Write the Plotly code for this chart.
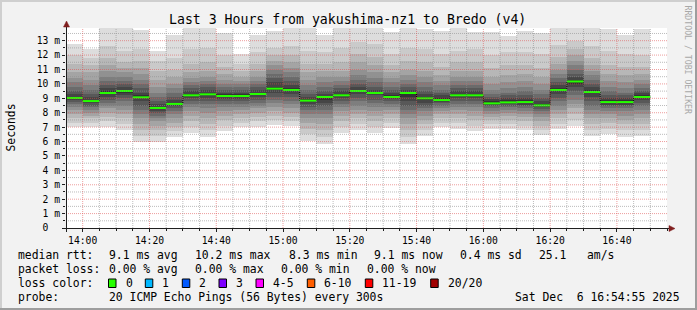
import plotly.graph_objects as go
from datetime import datetime, timedelta

# ---------------- data ----------------
column_start = ["13:55", "14:00", "14:05", "14:10", "14:15", "14:20", "14:25",
                "14:30", "14:35", "14:40", "14:45", "14:50", "14:55", "15:00",
                "15:05", "15:10", "15:15", "15:20", "15:25", "15:30", "15:35",
                "15:40", "15:45", "15:50", "15:55", "16:00", "16:05", "16:10",
                "16:15", "16:20", "16:25", "16:30", "16:35", "16:40", "16:45"]

median_rtt_ms = [9.02, 8.81, 9.37, 9.51, 9.07, 8.33, 8.61, 9.21, 9.28, 9.16,
                 9.16, 9.30, 9.67, 9.58, 8.84, 9.09, 9.21, 9.51, 9.37, 9.09,
                 9.37, 9.00, 8.88, 9.21, 9.21, 8.65, 8.72, 8.74, 8.51, 9.58,
                 10.17, 9.44, 8.74, 8.74, 9.09]

loss_count = [0, 0, 0, 0, 0, 0, 0, 0, 0, 0, 0, 0, 0, 0, 0, 0, 0, 0,
              0, 0, 0, 0, 0, 0, 0, 0, 0, 0, 0, 0, 0, 0, 0, 0, 0]

# legend statistics as printed on the chart
median_stats = [("9.1", "ms avg"), ("10.2", "ms max"), ("8.3", "ms min"),
                ("9.1", "ms now"), ("0.4", "ms sd"), ("25.1", "  am/s")]
loss_stats = [("0.00", "% avg"), ("0.00", "% max"), ("0.00", "% min"), ("0.00", "% now")]

# 20 sorted ping round-trip times (ms) per 5-minute step
ping_ms = [
    [7.0, 7.3, 7.6, 7.9, 8.2, 8.4, 8.6, 8.8, 8.9, 9.0, 9.1, 9.3, 9.5, 9.8, 10.1, 10.4, 10.8, 11.4, 12.0, 12.75],
    [7.0, 7.3, 7.6, 7.8, 8.0, 8.2, 8.4, 8.5, 8.7, 8.8, 8.9, 9.1, 9.3, 9.6, 9.9, 10.3, 10.8, 11.3, 11.8, 12.4],
    [7.0, 7.4, 7.7, 8.0, 8.3, 8.5, 8.7, 8.9, 9.1, 9.3, 9.5, 9.7, 9.9, 10.2, 10.5, 10.9, 11.3, 11.8, 12.6, 13.9],
    [6.8, 7.2, 7.6, 7.9, 8.2, 8.5, 8.8, 9.0, 9.2, 9.4, 9.6, 9.8, 10.0, 10.2, 10.5, 10.8, 11.1, 11.5, 12.3, 13.9],
    [6.0, 6.4, 6.8, 7.2, 7.6, 7.9, 8.2, 8.5, 8.8, 9.0, 9.2, 9.4, 9.7, 10.0, 10.3, 10.7, 11.1, 11.6, 12.4, 13.75],
    [6.0, 6.4, 6.8, 7.1, 7.4, 7.6, 7.8, 8.0, 8.1, 8.3, 8.4, 8.6, 8.8, 9.1, 9.4, 9.8, 10.3, 10.9, 11.6, 12.3],
    [6.35, 6.7, 7.0, 7.3, 7.6, 7.9, 8.1, 8.3, 8.5, 8.6, 8.7, 8.9, 9.1, 9.4, 9.7, 10.0, 10.5, 11.0, 11.8, 13.4],
    [6.6, 7.0, 7.4, 7.8, 8.1, 8.4, 8.6, 8.8, 9.0, 9.2, 9.3, 9.5, 9.7, 9.9, 10.1, 10.4, 10.8, 11.4, 12.4, 13.9],
    [6.35, 6.8, 7.2, 7.6, 8.0, 8.3, 8.6, 8.8, 9.0, 9.2, 9.4, 9.6, 9.8, 10.0, 10.2, 10.5, 10.9, 11.5, 12.5, 13.9],
    [6.7, 7.1, 7.5, 7.8, 8.1, 8.4, 8.6, 8.8, 9.0, 9.1, 9.3, 9.4, 9.6, 9.8, 10.0, 10.3, 10.7, 11.2, 12.0, 13.5],
    [7.0, 7.3, 7.6, 7.9, 8.2, 8.4, 8.6, 8.8, 9.0, 9.1, 9.3, 9.4, 9.6, 9.8, 10.0, 10.2, 10.5, 10.9, 11.4, 12.1],
    [7.0, 7.4, 7.7, 8.0, 8.3, 8.5, 8.7, 8.9, 9.1, 9.3, 9.4, 9.6, 9.8, 10.0, 10.2, 10.5, 10.9, 11.4, 12.2, 13.4],
    [7.15, 7.5, 7.8, 8.1, 8.4, 8.7, 8.9, 9.1, 9.4, 9.6, 9.8, 10.1, 10.4, 10.7, 11.0, 11.3, 11.6, 12.0, 12.5, 13.7],
    [7.1, 7.4, 7.7, 8.0, 8.3, 8.6, 8.8, 9.1, 9.3, 9.5, 9.7, 9.9, 10.2, 10.5, 10.8, 11.1, 11.5, 12.0, 12.6, 13.9],
    [6.05, 6.5, 6.9, 7.3, 7.6, 7.9, 8.2, 8.4, 8.6, 8.8, 8.95, 9.1, 9.3, 9.6, 9.9, 10.3, 10.8, 11.4, 12.3, 13.9],
    [5.85, 6.3, 6.8, 7.2, 7.6, 7.9, 8.2, 8.5, 8.7, 8.9, 9.1, 9.3, 9.5, 9.8, 10.1, 10.5, 10.9, 11.4, 12.2, 13.4],
    [6.6, 7.0, 7.4, 7.8, 8.1, 8.4, 8.6, 8.8, 9.0, 9.2, 9.3, 9.5, 9.7, 9.9, 10.2, 10.5, 10.9, 11.5, 12.5, 13.9],
    [6.8, 7.2, 7.6, 7.9, 8.2, 8.5, 8.8, 9.0, 9.3, 9.5, 9.6, 9.8, 10.0, 10.3, 10.6, 11.0, 11.5, 12.1, 12.9, 13.9],
    [6.6, 7.0, 7.4, 7.8, 8.1, 8.4, 8.7, 8.9, 9.2, 9.35, 9.45, 9.6, 9.8, 10.1, 10.4, 10.8, 11.3, 11.9, 12.8, 13.9],
    [6.95, 7.3, 7.6, 7.9, 8.2, 8.4, 8.6, 8.8, 9.0, 9.1, 9.2, 9.4, 9.6, 9.8, 10.1, 10.4, 10.8, 11.3, 12.1, 13.6],
    [5.8, 6.3, 6.8, 7.2, 7.6, 7.9, 8.2, 8.5, 8.8, 9.1, 9.4, 9.6, 9.8, 10.0, 10.3, 10.6, 11.0, 11.6, 12.5, 13.9],
    [6.4, 6.8, 7.2, 7.5, 7.8, 8.1, 8.3, 8.5, 8.7, 8.9, 9.1, 9.3, 9.5, 9.8, 10.1, 10.5, 10.9, 11.5, 12.4, 13.8],
    [7.0, 7.3, 7.6, 7.9, 8.1, 8.3, 8.5, 8.7, 8.8, 8.9, 9.0, 9.2, 9.4, 9.6, 9.9, 10.2, 10.6, 11.2, 12.1, 13.7],
    [6.9, 7.3, 7.6, 7.9, 8.2, 8.4, 8.6, 8.8, 9.0, 9.2, 9.3, 9.5, 9.7, 9.9, 10.2, 10.5, 10.9, 11.5, 12.3, 13.9],
    [6.7, 7.1, 7.5, 7.8, 8.1, 8.4, 8.6, 8.8, 9.0, 9.2, 9.3, 9.5, 9.7, 9.9, 10.2, 10.5, 10.9, 11.5, 12.4, 13.6],
    [6.85, 7.2, 7.5, 7.7, 7.9, 8.1, 8.3, 8.45, 8.6, 8.7, 8.8, 8.95, 9.1, 9.3, 9.6, 10.0, 10.5, 11.1, 12.0, 13.6],
    [6.9, 7.2, 7.5, 7.8, 8.0, 8.2, 8.4, 8.5, 8.65, 8.75, 8.85, 9.0, 9.2, 9.4, 9.7, 10.1, 10.6, 11.3, 12.2, 13.3],
    [6.8, 7.1, 7.4, 7.7, 7.9, 8.1, 8.3, 8.5, 8.6, 8.7, 8.85, 9.0, 9.2, 9.5, 9.8, 10.2, 10.7, 11.3, 12.2, 13.7],
    [6.45, 6.8, 7.1, 7.4, 7.7, 7.9, 8.1, 8.3, 8.4, 8.5, 8.6, 8.8, 9.0, 9.3, 9.6, 10.0, 10.5, 11.1, 12.1, 13.5],
    [6.85, 7.2, 7.6, 7.9, 8.2, 8.5, 8.8, 9.0, 9.3, 9.5, 9.7, 9.9, 10.1, 10.4, 10.7, 11.0, 11.4, 11.9, 12.7, 13.9],
    [7.1, 7.5, 7.9, 8.3, 8.6, 8.9, 9.2, 9.5, 9.8, 10.0, 10.3, 10.5, 10.7, 11.0, 11.3, 11.6, 12.0, 12.4, 13.0, 13.9],
    [6.4, 6.8, 7.2, 7.6, 7.9, 8.2, 8.5, 8.8, 9.1, 9.35, 9.6, 9.8, 10.0, 10.3, 10.6, 10.9, 11.3, 11.8, 12.6, 13.9],
    [6.5, 6.9, 7.3, 7.6, 7.9, 8.1, 8.3, 8.5, 8.6, 8.7, 8.85, 9.0, 9.2, 9.5, 9.8, 10.2, 10.7, 11.3, 12.3, 13.8],
    [6.35, 6.8, 7.2, 7.5, 7.8, 8.1, 8.3, 8.5, 8.6, 8.7, 8.85, 9.0, 9.2, 9.4, 9.7, 10.1, 10.6, 11.2, 12.1, 13.4],
    [6.4, 6.8, 7.2, 7.6, 7.9, 8.2, 8.5, 8.7, 8.9, 9.05, 9.2, 9.35, 9.5, 9.7, 10.0, 10.3, 10.7, 11.2, 12.0, 13.8],
]

y_tick_values = [0, 1, 2, 3, 4, 5, 6, 7, 8, 9, 10, 11, 12, 13]
y_tick_labels = ["0\u00a0\u00a0", "1 m", "2 m", "3 m", "4 m", "5 m", "6 m", "7 m",
                 "8 m", "9 m", "10 m", "11 m", "12 m", "13 m"]

loss_legend_labels = ["0", "1", "2", "3", "4-5", "6-10", "11-19", "20/20"]
loss_legend_colors = ["#26ff00", "#00b8ff", "#0059ff", "#7e00ff", "#ff00ff",
                      "#ff5e00", "#ff0000", "#a10000"]

DAY = "2025-12-06"
STEP_MS = 300000
X_START = DAY + " 13:55:00"
X_END = DAY + " 16:55:00"
Y_MAX = 13.88

# ---------------- geometry helpers ----------------
W, H = 697, 310
ML, MT = 66, 28
PW, PH = 601, 200


def px(x):
    return (x - ML) / PW


def py(y):
    return (MT + PH - y) / PH


starts = [datetime.strptime(DAY + " " + s, "%Y-%m-%d %H:%M") for s in column_start]
centers = [s + timedelta(milliseconds=STEP_MS / 2) for s in starts]
ends = [s + timedelta(milliseconds=STEP_MS) for s in starts]

fig = go.Figure()

# ---------------- smoke ----------------
n_pings = len(ping_ms[0])
half = n_pings // 2
for j in range(n_pings - 1):
    ibot = min(j + 1, n_pings - 1 - j)
    g = int(190 / half * (half - ibot)) + 50
    base = [col[j] for col in ping_ms]
    height = [col[j + 1] - col[j] for col in ping_ms]
    fig.add_trace(go.Bar(
        x=centers, y=height, base=base, width=[STEP_MS] * len(centers),
        marker=dict(color=f"rgb({g},{g},{g})", line=dict(width=0)),
        showlegend=False, hoverinfo="skip"))

# ---------------- median ----------------
fig.add_trace(go.Scatter(
    x=starts + [ends[-1]], y=median_rtt_ms + [median_rtt_ms[-1]],
    mode="lines", line=dict(color="#000000", width=1, dash="1px,1px", shape="hv"),
    showlegend=False, hoverinfo="skip"))


def loss_color(n):
    if n == 0:
        return loss_legend_colors[0]
    if n <= 3:
        return loss_legend_colors[n]
    if n <= 5:
        return loss_legend_colors[4]
    if n <= 10:
        return loss_legend_colors[5]
    if n <= 19:
        return loss_legend_colors[6]
    return loss_legend_colors[7]


for s, e, m, l in zip(starts, ends, median_rtt_ms, loss_count):
    fig.add_trace(go.Scatter(
        x=[s, e], y=[m, m], mode="lines",
        line=dict(color=loss_color(l), width=2),
        showlegend=False, hoverinfo="skip"))

# ---------------- grid (above data, like rrdtool) ----------------
shapes = []
GRID = "rgba(143,143,143,0.6)"
MGRID = "rgba(222,79,79,0.55)"
k = 1
while k * 0.5 < Y_MAX:
    v = k * 0.5
    shapes.append(dict(type="line", xref="paper", yref="y", x0=0, x1=1, y0=v, y1=v,
                       line=dict(color=MGRID if k % 2 == 0 else GRID, width=1, dash="1px,1px"),
                       layer="above"))
    k += 1
x0dt = datetime.strptime(X_START, "%Y-%m-%d %H:%M:%S")
x1dt = datetime.strptime(X_END, "%Y-%m-%d %H:%M:%S")
t = x0dt + timedelta(minutes=5)
while t < x1dt:
    major = (t.minute % 20 == 0)
    shapes.append(dict(type="line", xref="x", yref="paper", x0=t, x1=t, y0=0, y1=1,
                       line=dict(color=MGRID if major else GRID, width=1, dash="1px,1px"),
                       layer="above"))
    t += timedelta(minutes=5)

AXIS = "#1f1f1f"
ARROW = "#801f1f"
shapes.append(dict(type="line", xref="paper", yref="paper", x0=px(62), x1=px(670),
                   y0=py(228.5), y1=py(228.5), line=dict(color=AXIS, width=1), layer="above"))
shapes.append(dict(type="line", xref="paper", yref="paper", x0=px(66.5), x1=px(66.5),
                   y0=py(232), y1=py(24), line=dict(color=AXIS, width=1), layer="above"))
shapes.append(dict(type="path", xref="paper", yref="paper",
                   path=f"M {px(669)} {py(225.5)} L {px(675)} {py(228.5)} L {px(669)} {py(231.5)} Z",
                   fillcolor=ARROW, line=dict(color=ARROW, width=0.5), layer="above"))
shapes.append(dict(type="path", xref="paper", yref="paper",
                   path=f"M {px(63.5)} {py(27)} L {px(66.5)} {py(21)} L {px(69.5)} {py(27)} Z",
                   fillcolor=ARROW, line=dict(color=ARROW, width=0.5), layer="above"))

# frame shading
shapes.append(dict(type="rect", xref="paper", yref="paper", x0=px(0), x1=px(W), y0=py(0), y1=py(2),
                   fillcolor="#cfcfcf", line=dict(width=0)))
shapes.append(dict(type="rect", xref="paper", yref="paper", x0=px(0), x1=px(2), y0=py(0), y1=py(H),
                   fillcolor="#cfcfcf", line=dict(width=0)))
shapes.append(dict(type="rect", xref="paper", yref="paper", x0=px(W - 2), x1=px(W), y0=py(0), y1=py(H),
                   fillcolor="#9e9e9e", line=dict(width=0)))
shapes.append(dict(type="rect", xref="paper", yref="paper", x0=px(0), x1=px(W), y0=py(H - 2), y1=py(H),
                   fillcolor="#9e9e9e", line=dict(width=0)))

# ---------------- texts ----------------
MONO = "DejaVu Sans Mono"
ann = []


def text(x, y, s, size=11.4, color="#000000", xanchor="left", angle=0):
    ann.append(dict(xref="paper", yref="paper", x=px(x), y=py(y), text=s.replace(" ", "\u00a0"),
                    showarrow=False, xanchor=xanchor, yanchor="middle", textangle=angle,
                    font=dict(family=MONO, size=size, color=color)))


text(347, 19, "Last 3 Hours from yakushima-nz1 to Bredo (v4)", size=13.2, xanchor="center")
text(10.5, 128, "Seconds", size=11.4, xanchor="center", angle=-90)
text(687.5, 60, "RRDTOOL / TOBI OETIKER", size=8.2, color="#a8a8a8", xanchor="center", angle=90)

row1 = 254.5
text(16, row1, "median rtt:")
for xx, (val, unit) in zip([107.3, 193, 287, 371.7, 458.3, 537], median_stats):
    text(xx, row1, f"{val} {unit}")

row2 = 268.5
text(16, row2, "packet loss:")
for xx, (val, unit) in zip([107.3, 193.3, 279.3, 365.3], loss_stats):
    text(xx, row2, f"{val} {unit}")

row3 = 282.5
text(16, row3, "loss color:")
box_x = [108.5, 145.3, 182.3, 219.0, 256.0, 307.3, 365.3, 430.7]
for bx, lab, col in zip(box_x, loss_legend_labels, loss_legend_colors):
    shapes.append(dict(type="rect", xref="paper", yref="paper", x0=px(bx), x1=px(bx + 7.5),
                       y0=py(279), y1=py(287.5), fillcolor=col,
                       line=dict(color="#000000", width=1)))
    text(bx + 15, row3, lab)

row4 = 296.5
text(16, row4, "probe:")
text(107.3, row4, "20 ICMP Echo Pings (56 Bytes) every 300s")
text(513.3, row4, "Sat Dec  6 16:54:55 2025")

fig.update_layout(
    width=W, height=H,
    margin=dict(l=ML, r=W - ML - PW, t=MT, b=H - MT - PH, pad=0),
    paper_bgcolor="#f2f2f2", plot_bgcolor="#ffffff",
    barmode="overlay", bargap=0,
    showlegend=False,
    shapes=shapes, annotations=ann,
    font=dict(family=MONO, color="#000000"),
    xaxis=dict(type="date", range=[X_START, X_END], showgrid=False, zeroline=False,
               showline=False, tickformat="%H:%M", dtick=20 * 60 * 1000,
               tick0=DAY + " 14:00:00", ticks="outside", ticklen=3, tickcolor=AXIS,
               tickfont=dict(family=MONO, size=9.7, color="#000000"),
               minor=dict(dtick=5 * 60 * 1000, ticks="outside", ticklen=2, tickcolor=AXIS,
                          showgrid=False)),
    yaxis=dict(range=[0, Y_MAX], showgrid=False, zeroline=False, showline=False,
               tickmode="array", tickvals=y_tick_values, ticktext=y_tick_labels,
               ticks="outside", ticklen=3, tickcolor=AXIS,
               tickfont=dict(family=MONO, size=9.7, color="#000000"),
               minor=dict(dtick=0.5, ticks="outside", ticklen=2, tickcolor=AXIS,
                          showgrid=False)),
)

fig.write_html("out.html")
